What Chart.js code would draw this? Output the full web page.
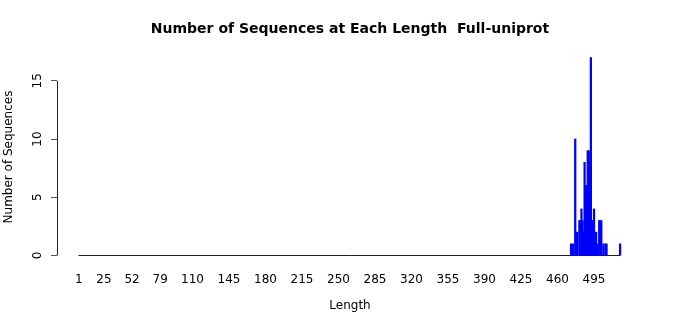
<!DOCTYPE html>
<html>
<head>
<meta charset="utf-8">
<script src="https://cdn.jsdelivr.net/npm/chart.js@4"></script>
<style>
  html, body { margin: 0; padding: 0; background: #fff; }
  #box { width: 700px; height: 315px; }
</style>
</head>
<body>
<div id="box"><canvas id="lenChart"></canvas></div>
<script>
// 序列长度 (只列出非零的长度) 和对应数量
const lengths = [473, 475, 477, 478, 479, 481, 482, 483, 484, 485, 486, 487, 488, 489, 490, 491, 492,
                 493, 494, 495, 496, 497, 498, 500, 501, 502, 504, 506, 507, 520];
const counts  = [1, 1, 10, 2, 2, 3, 3, 4, 3, 2, 8, 6, 6, 9, 9, 8, 17,
                 3, 3, 4, 2, 2, 1, 3, 3, 3, 1, 1, 1, 1];
// x轴显示的刻度标签
const xTickLabels = [1, 25, 52, 79, 110, 145, 180, 215, 250, 285, 320, 355, 390, 425, 460, 495];
const yTickLabels = [0, 5, 10, 15];
// 条形范围 (长度 1 到 520), 零高度的条形画成一条蓝线
const lengthRange = [1, 520];

const font = 'DejaVu Sans';

// y轴的线只画到 15, 和原图一样
const yAxisLine = {
    id: 'yAxisLine',
    afterDraw(chart) {
        const y = chart.scales.y;
        const ctx = chart.ctx;
        const x = chart.chartArea.left + 0.5;
        ctx.save();
        ctx.strokeStyle = '#222';
        ctx.lineWidth = 1;
        ctx.beginPath();
        ctx.moveTo(x, y.getPixelForValue(yTickLabels[0]));
        ctx.lineTo(x, y.getPixelForValue(yTickLabels[yTickLabels.length - 1]));
        ctx.stroke();
        ctx.restore();
    }
};

new Chart(document.getElementById('lenChart'), {
    type: 'bar',
    data: {
        datasets: [{
            type: 'bar',
            data: lengths.map((l, i) => ({ x: l, y: counts[i] })),
            backgroundColor: '#0000ff',
            borderWidth: 0,
            barThickness: 1.6
        }, {
            type: 'line',
            data: [{ x: lengthRange[0] - 0.4, y: 0 }, { x: lengthRange[1] + 0.4, y: 0 }],
            borderColor: '#0000ff',
            borderWidth: 1,
            pointRadius: 0
        }]
    },
    options: {
        responsive: true,
        maintainAspectRatio: false,
        animation: false,
        layout: { padding: 0 },
        plugins: {
            legend: { display: false },
            tooltip: { enabled: false },
            title: {
                display: true,
                text: 'Number of Sequences at Each Length  Full-uniprot',
                color: '#000',
                font: { family: font, size: 14, weight: 'bold' },
                padding: { top: 20.6, bottom: 13.6 }
            }
        },
        scales: {
            x: {
                type: 'linear',
                min: -20,
                max: 542,
                offset: false,
                afterBuildTicks: s => { s.ticks = xTickLabels.map(v => ({ value: v })); },
                afterFit: s => { s.height = 52; },
                grid: { display: false, drawTicks: false },
                border: { display: false },
                ticks: {
                    autoSkip: false,
                    maxRotation: 0,
                    padding: 10,
                    color: '#000',
                    font: { family: font, size: 12 }
                },
                title: {
                    display: true,
                    text: 'Length',
                    color: '#000',
                    font: { family: font, size: 12 },
                    padding: { top: 0, bottom: 2 }
                }
            },
            y: {
                min: -0.644,
                max: 17.56,
                afterBuildTicks: s => { s.ticks = yTickLabels.map(v => ({ value: v })); },
                afterFit: s => { s.width = 57; },
                grid: { drawOnChartArea: false, drawTicks: true, tickLength: 6, color: '#555' },
                border: { display: false },
                ticks: {
                    minRotation: 90,
                    maxRotation: 90,
                    crossAlign: 'center',
                    padding: 5,
                    color: '#000',
                    font: { family: font, size: 12 }
                },
                title: {
                    display: true,
                    text: 'Number of Sequences',
                    color: '#000',
                    font: { family: font, size: 12 },
                    padding: { top: 2, bottom: 0 }
                }
            },
            // 右边的空白区域, 让标题居中在绘图区上方
            yRight: {
                position: 'right',
                display: true,
                afterFit: s => { s.width = 57; },
                grid: { display: false, drawTicks: false },
                border: { display: false },
                ticks: { display: false }
            }
        }
    },
    plugins: [yAxisLine]
});
</script>
</body>
</html>
